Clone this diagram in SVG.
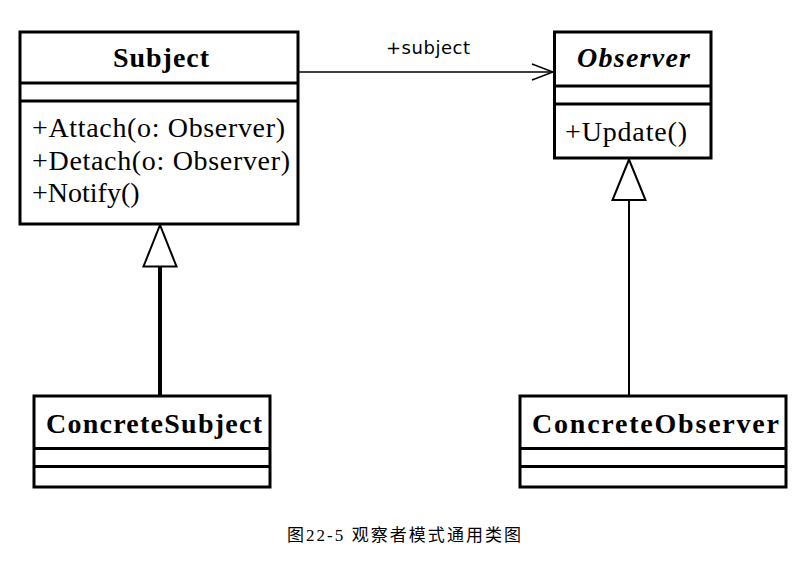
<svg xmlns="http://www.w3.org/2000/svg" width="806" height="568" viewBox="0 0 806 568">
<style>
.box{fill:#fff;stroke:#000;stroke-width:3}
.sep{stroke:#000;stroke-width:3}
.title{font-family:'Liberation Serif','Times New Roman',Tinos,serif;font-weight:bold;font-size:28px;fill:#000}
.it{font-style:italic}
.op{font-family:'Liberation Serif','Times New Roman',Tinos,serif;font-size:28px;fill:#000}
.lbl{font-family:'DejaVu Sans','Liberation Sans',sans-serif;font-size:18px;fill:#000}
.cap{font-family:'Liberation Serif','Times New Roman','Noto Sans CJK SC',serif;font-size:17px;fill:#000}
</style>
<defs>
<marker id="open" markerWidth="24" markerHeight="20" refX="22" refY="9" orient="auto" markerUnits="userSpaceOnUse">
<path d="M1,1 L22,9 L1,17" fill="none" stroke="#000" stroke-width="1.6"/>
</marker>
</defs>
<rect width="806" height="568" fill="#fff"/>
<g id="connectors">
<line x1="298" y1="72" x2="553" y2="72" stroke="#000" stroke-width="1.6" marker-end="url(#open)"/>
<text class="lbl" x="428" y="54" text-anchor="middle" textLength="84">+subject</text>
<line x1="160" y1="266" x2="160" y2="395" stroke="#000" stroke-width="4"/>
<polygon points="160,225 143.5,266.5 176.5,266.5" fill="#fff" stroke="#000" stroke-width="2"/>
<line x1="629" y1="200" x2="629" y2="395" stroke="#000" stroke-width="2"/>
<polygon points="629,159.5 612.5,200 645.5,200" fill="#fff" stroke="#000" stroke-width="2"/>
</g>
<g id="Subject">
<rect class="box" x="20" y="32" width="278" height="192"/>
<line class="sep" x1="20" y1="83" x2="298" y2="83"/>
<line class="sep" x1="20" y1="101" x2="298" y2="101"/>
<text class="title" x="161" y="67" text-anchor="middle" textLength="96">Subject</text>
<text class="op" x="32" y="137" textLength="253">+Attach(o: Observer)</text>
<text class="op" x="32" y="169.5" textLength="258">+Detach(o: Observer)</text>
<text class="op" x="32" y="202">+Notify()</text>
</g>
<g id="Observer">
<rect class="box" x="554.5" y="32" width="156.5" height="126"/>
<line class="sep" x1="554.5" y1="86" x2="711" y2="86"/>
<line class="sep" x1="554.5" y1="104" x2="711" y2="104"/>
<text class="title it" x="633.5" y="67" text-anchor="middle" textLength="113">Observer</text>
<text class="op" x="565" y="141" textLength="122">+Update()</text>
</g>
<g id="ConcreteSubject">
<rect class="box" x="34" y="396" width="236" height="91"/>
<line class="sep" x1="34" y1="448.5" x2="270" y2="448.5"/>
<line class="sep" x1="34" y1="466.5" x2="270" y2="466.5"/>
<text class="title" x="46" y="433" textLength="216">ConcreteSubject</text>
</g>
<g id="ConcreteObserver">
<rect class="box" x="520" y="396" width="266" height="91"/>
<line class="sep" x1="520" y1="448.5" x2="786" y2="448.5"/>
<line class="sep" x1="520" y1="466.5" x2="786" y2="466.5"/>
<text class="title" x="532" y="433" textLength="247">ConcreteObserver</text>
</g>
<g id="caption">
<text class="cap" x="287" y="541" textLength="234">图22-5 观察者模式通用类图</text>
</g>
</svg>
